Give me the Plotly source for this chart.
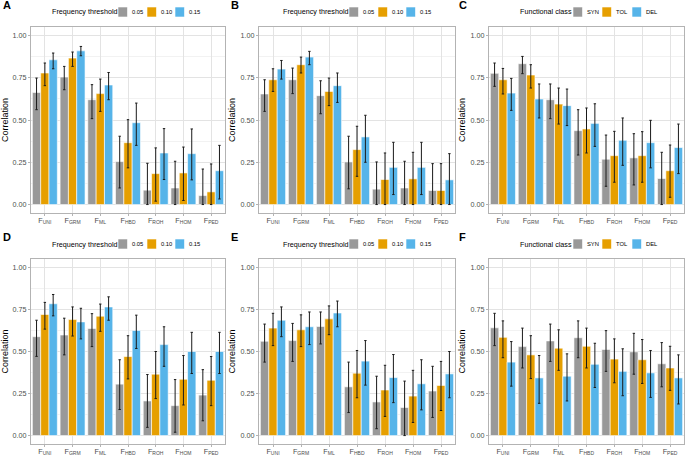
import plotly.graph_objects as go

# x categories (F estimators)
categories = ["UNI", "GRM", "ML", "HBD", "ROH", "HOM", "PED"]
tick_labels = ["F<sub>%s</sub>" % c for c in categories]

freq_groups = ["0.05", "0.10", "0.15"]
class_groups = ["SYN", "TOL", "DEL"]

# panel A
A_mean = [[0.663, 0.754, 0.620, 0.254, 0.085, 0.098, 0.053],
          [0.778, 0.866, 0.656, 0.366, 0.183, 0.187, 0.075],
          [0.856, 0.909, 0.707, 0.484, 0.305, 0.301, 0.200]]
A_low = [[0.561, 0.679, 0.508, 0.098, 0.0, 0.0, 0.0],
         [0.703, 0.817, 0.551, 0.217, 0.020, 0.024, 0.0],
         [0.803, 0.880, 0.620, 0.350, 0.148, 0.146, 0.033]]
A_high = [[0.748, 0.817, 0.709, 0.404, 0.244, 0.256, 0.210],
          [0.837, 0.902, 0.742, 0.502, 0.335, 0.340, 0.240],
          [0.896, 0.935, 0.781, 0.600, 0.449, 0.447, 0.350]]

# panel B
B_mean = [[0.654, 0.738, 0.644, 0.252, 0.091, 0.098, 0.083],
          [0.738, 0.827, 0.669, 0.325, 0.148, 0.152, 0.083],
          [0.801, 0.872, 0.703, 0.400, 0.220, 0.220, 0.146]]
B_low = [[0.551, 0.656, 0.537, 0.093, 0.0, 0.0, 0.0],
         [0.669, 0.778, 0.585, 0.167, 0.0, 0.0, 0.0],
         [0.742, 0.827, 0.604, 0.250, 0.059, 0.059, 0.0]]
B_high = [[0.738, 0.807, 0.732, 0.404, 0.252, 0.256, 0.242],
          [0.803, 0.872, 0.748, 0.463, 0.305, 0.309, 0.242],
          [0.852, 0.906, 0.778, 0.528, 0.368, 0.368, 0.301]]

# panel C
C_mean = [[0.776, 0.833, 0.620, 0.437, 0.268, 0.276, 0.154],
          [0.738, 0.766, 0.594, 0.447, 0.289, 0.289, 0.200],
          [0.659, 0.624, 0.585, 0.480, 0.380, 0.366, 0.337]]
C_low = [[0.699, 0.774, 0.508, 0.293, 0.108, 0.116, 0.0],
         [0.654, 0.689, 0.476, 0.305, 0.132, 0.132, 0.043],
         [0.557, 0.512, 0.467, 0.344, 0.232, 0.217, 0.183]]
C_high = [[0.837, 0.876, 0.713, 0.561, 0.411, 0.419, 0.309],
          [0.805, 0.827, 0.689, 0.571, 0.433, 0.431, 0.352],
          [0.746, 0.713, 0.683, 0.596, 0.512, 0.498, 0.476]]

# panel D
D_mean = [[0.588, 0.598, 0.637, 0.306, 0.206, 0.178, 0.241],
          [0.720, 0.690, 0.710, 0.470, 0.365, 0.335, 0.329],
          [0.784, 0.676, 0.765, 0.625, 0.541, 0.500, 0.500]]
D_low = [[0.471, 0.480, 0.529, 0.155, 0.049, 0.020, 0.088],
         [0.633, 0.592, 0.620, 0.337, 0.220, 0.182, 0.178],
         [0.712, 0.575, 0.686, 0.518, 0.412, 0.369, 0.369]]
D_high = [[0.686, 0.698, 0.725, 0.451, 0.363, 0.333, 0.392],
          [0.792, 0.765, 0.782, 0.594, 0.500, 0.476, 0.470],
          [0.839, 0.757, 0.825, 0.716, 0.647, 0.614, 0.614]]

# panel E
E_mean = [[0.561, 0.565, 0.649, 0.290, 0.200, 0.167, 0.265],
          [0.639, 0.629, 0.694, 0.371, 0.271, 0.235, 0.298],
          [0.686, 0.647, 0.729, 0.443, 0.345, 0.308, 0.367]]
E_low = [[0.437, 0.441, 0.545, 0.137, 0.041, 0.0, 0.108],
         [0.535, 0.529, 0.600, 0.225, 0.114, 0.078, 0.149],
         [0.588, 0.541, 0.647, 0.300, 0.196, 0.153, 0.225]]
E_high = [[0.663, 0.667, 0.735, 0.437, 0.353, 0.324, 0.412],
          [0.727, 0.718, 0.771, 0.506, 0.418, 0.388, 0.441],
          [0.765, 0.735, 0.800, 0.565, 0.482, 0.451, 0.500]]

# panel F
F_mean = [[0.641, 0.529, 0.563, 0.582, 0.512, 0.498, 0.427],
          [0.584, 0.480, 0.520, 0.531, 0.455, 0.451, 0.402],
          [0.437, 0.343, 0.353, 0.424, 0.382, 0.373, 0.343]]
F_low = [[0.535, 0.402, 0.441, 0.463, 0.382, 0.365, 0.290],
         [0.463, 0.339, 0.388, 0.402, 0.314, 0.310, 0.269],
         [0.294, 0.192, 0.206, 0.286, 0.237, 0.227, 0.188]]
F_high = [[0.727, 0.639, 0.663, 0.682, 0.624, 0.608, 0.553],
          [0.682, 0.594, 0.629, 0.639, 0.575, 0.571, 0.531],
          [0.559, 0.476, 0.486, 0.549, 0.516, 0.506, 0.480]]

colors = ["#999999", "#E69F00", "#56B4E9"]
FONT = "Liberation Sans, Arial, sans-serif"
W, H = 685, 456

# panel boxes in pixels: (left, right, top, bottom), legend title x, key offsets
freq_keys = (68, 97, 125)
class_keys = (55, 84, 114)
panels = [
    ("A", A_mean, A_low, A_high, freq_groups, "Frequency threshold", (31, 225, 27, 213), 0, 50, freq_keys),
    ("B", B_mean, B_low, B_high, freq_groups, "Frequency threshold", (259, 455, 27, 213), 228, 281, freq_keys),
    ("C", C_mean, C_low, C_high, class_groups, "Functional class", (489, 684, 27, 213), 456, 518, class_keys),
    ("D", D_mean, D_low, D_high, freq_groups, "Frequency threshold", (31, 225, 259, 444), 0, 50, freq_keys),
    ("E", E_mean, E_low, E_high, freq_groups, "Frequency threshold", (259, 455, 259, 444), 228, 281, freq_keys),
    ("F", F_mean, F_low, F_high, class_groups, "Functional class", (489, 684, 259, 444), 456, 518, class_keys),
]

fig = go.Figure()
layout = {}
annotations = []
shapes = []


def px(x):
    return x / W


def py(y):
    return 1 - y / H


for i, (lab, means, lows, highs, groups, ltitle, box, lab_x, lx, keys) in enumerate(panels):
    n = i + 1
    xa = "x" if n == 1 else "x%d" % n
    ya = "y" if n == 1 else "y%d" % n
    left, right, top, bottom = box
    for g in range(3):
        plus = [h - m for h, m in zip(highs[g], means[g])]
        minus = [m - l for m, l in zip(means[g], lows[g])]
        fig.add_trace(go.Bar(
            x=categories, y=means[g], name=groups[g],
            xaxis=xa, yaxis=ya, showlegend=False,
            marker=dict(color=colors[g], line=dict(color="white", width=0.6)),
            error_y=dict(type="data", symmetric=False, array=plus, arrayminus=minus,
                         color="#1a1a1a", thickness=1, width=1.2),
        ))
    layout["xaxis" if n == 1 else "xaxis%d" % n] = dict(
        domain=[px(left), px(right)], anchor=ya, automargin=False,
        tickvals=categories, ticktext=tick_labels,
        showgrid=True, gridcolor="#E3E3E3", gridwidth=0.5,
        ticks="outside", ticklen=2, tickcolor="#B3B3B3",
        ticklabelstandoff=-2,
        tickfont=dict(size=7.2, color="#4D4D4D", family=FONT),
        showline=True, linecolor="#B3B3B3", linewidth=1, mirror=True,
        zeroline=False,
    )
    layout["yaxis" if n == 1 else "yaxis%d" % n] = dict(
        domain=[py(bottom), py(top)], anchor=xa, automargin=False,
        range=[-0.05, 1.05], tickvals=[0, 0.25, 0.5, 0.75, 1.0],
        ticktext=["0.00", "0.25", "0.50", "0.75", "1.00"],
        showgrid=True, gridcolor="#E3E3E3", gridwidth=0.6,
        minor=dict(tickvals=[0.125, 0.375, 0.625, 0.875], showgrid=True,
                   gridcolor="#F2F2F2", gridwidth=0.4),
        ticks="outside", ticklen=2, tickcolor="#B3B3B3",
        tickfont=dict(size=7.2, color="#4D4D4D", family=FONT),
        title=dict(text="Correlation", font=dict(size=9, color="black", family=FONT), standoff=3),
        showline=True, linecolor="#B3B3B3", linewidth=1, mirror=True,
        zeroline=False,
    )

    # panel letter
    annotations.append(dict(
        text="<b>%s</b>" % lab, x=px(lab_x + 1), y=py(top - 22),
        xref="paper", yref="paper", xanchor="left", yanchor="middle",
        showarrow=False, font=dict(size=11, family=FONT, color="black"),
    ))

    # legend drawn above each panel
    ly = top - 15
    annotations.append(dict(
        text=ltitle, x=px(lx), y=py(ly), xref="paper", yref="paper",
        xanchor="left", yanchor="middle", showarrow=False,
        font=dict(size=7.2, family=FONT, color="black"),
    ))
    for g in range(3):
        kx = lx + keys[g]
        shapes.append(dict(
            type="rect", xref="paper", yref="paper",
            x0=px(kx), x1=px(kx + 9.5), y0=py(ly + 5), y1=py(ly - 5),
            fillcolor=colors[g], line=dict(color="white", width=0.6),
        ))
        annotations.append(dict(
            text=groups[g], x=px(kx + 12), y=py(ly), xref="paper", yref="paper",
            xanchor="left", yanchor="middle", showarrow=False,
            font=dict(size=5.8, family=FONT, color="black"),
        ))

fig.update_layout(
    template="none",
    width=W, height=H,
    margin=dict(l=0, r=0, t=0, b=0, autoexpand=False),
    paper_bgcolor="white", plot_bgcolor="white",
    barmode="group", bargap=0.1, bargroupgap=0,
    showlegend=False,
    annotations=annotations,
    shapes=shapes,
    **layout,
)

# drop the default page margin so the figure sits at the window corner
fig.write_html("out.html", config={"displayModeBar": False},
               post_script="document.body.style.margin='0';")
